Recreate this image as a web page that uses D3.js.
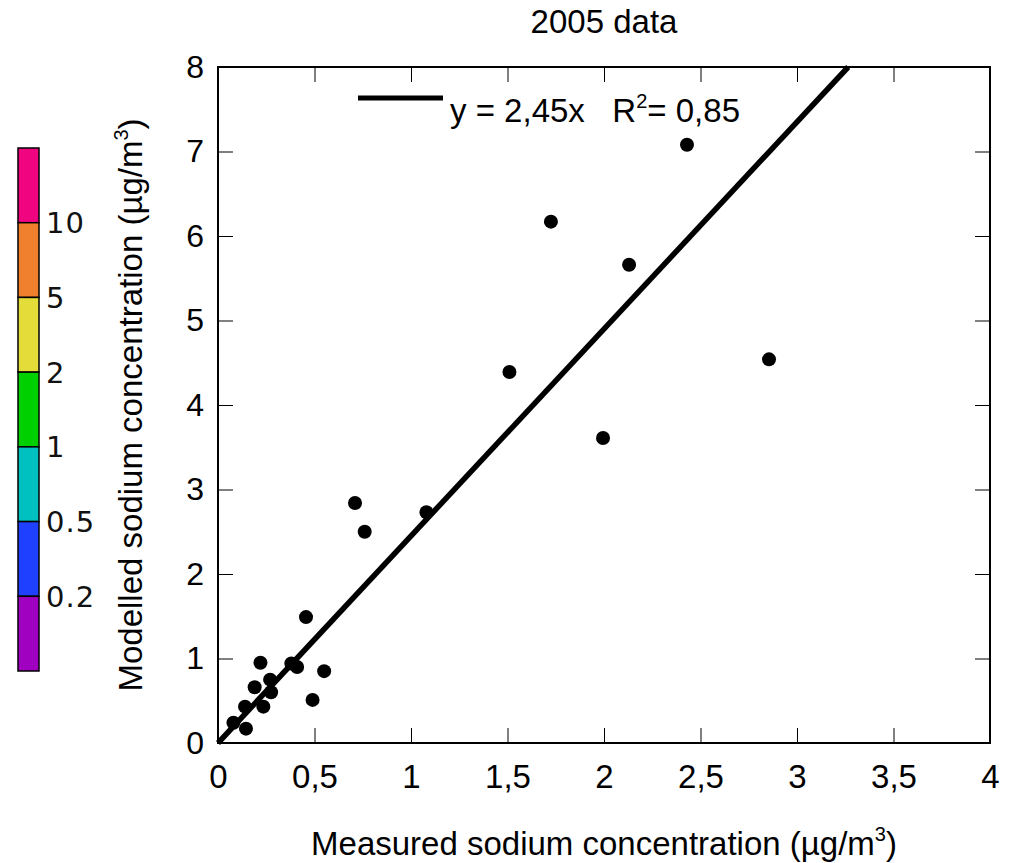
<!DOCTYPE html>
<head>
<meta charset="utf-8">
<script src="https://d3js.org/d3.v7.min.js"></script>
<style>
body {
  margin: 0;
  background: white;
  font-family: 'Liberation Sans', Arial, sans-serif;
}
.frame {
  fill: none;
  stroke: black;
  stroke-width: 2;
}
.tick line {
  stroke: black;
  stroke-width: 1;
}
.fit_line {
  stroke: black;
  stroke-width: 5.5;
  fill: none;
}
.dot {
  fill: black;
}
.scale_label {
  font-family: 'DejaVu Sans', sans-serif;
  font-size: 29px;
  letter-spacing: 1px;
  fill: #111;
}
</style>
</head>

<body>
<div id="plotContainer"></div>
<script>

// measured vs modelled sodium (ug/m3)
var measured = [2.43, 1.725, 2.13, 1.51, 2.855, 1.995, 0.71, 0.76, 1.08, 0.456,
                0.55, 0.49, 0.38, 0.41, 0.22, 0.19, 0.27, 0.275, 0.235, 0.14, 0.08, 0.145];
var modelled = [7.08, 6.17, 5.66, 4.39, 4.54, 3.61, 2.84, 2.50, 2.73, 1.49,
                0.85, 0.51, 0.94, 0.90, 0.95, 0.66, 0.75, 0.60, 0.43, 0.43, 0.24, 0.17];

var slope = 2.45;
var r2 = "0,85";

var xTicks = [0, 0.5, 1, 1.5, 2, 2.5, 3, 3.5, 4];
var yTicks = [0, 1, 2, 3, 4, 5, 6, 7, 8];

// colour key on the left (top to bottom)
var scaleColors = ["#f0047f", "#f0802e", "#e4dc38", "#00d000", "#00c0c0", "#2040ff", "#a000c0"];
var scaleLabels = ["10", "5", "2", "1", "0.5", "0.2"];

var width = 1017, height = 863;
var margin = {top: 67, right: 27, bottom: 120, left: 218};
var w = width - margin.left - margin.right,
    h = height - margin.top - margin.bottom;

var svg = d3.select("#plotContainer")
    .append("svg")
    .attr("width", width)
    .attr("height", height);

var x = d3.scaleLinear().domain([0, 4]).range([0, w]);
var y = d3.scaleLinear().domain([0, 8]).range([h, 0]);

var g = svg.append("g")
    .attr("transform", "translate(" + margin.left + "," + margin.top + ")");

var fmt = function(d) { return String(d).replace(".", ","); };

// bottom axis, ticks pointing inward
var xAxis = g.append("g")
    .attr("transform", "translate(0," + h + ")")
    .call(d3.axisBottom(x).tickValues(xTicks).tickSize(-15).tickPadding(22).tickFormat(fmt));
xAxis.select(".domain").remove();
xAxis.selectAll("text")
    .attr("font-size", 33)
    .attr("font-family", "'Liberation Sans', Arial, sans-serif")
    .attr("fill", "black");

var xTop = g.append("g")
    .call(d3.axisTop(x).tickValues(xTicks).tickSize(-15).tickFormat(""));
xTop.select(".domain").remove();

var yAxis = g.append("g")
    .call(d3.axisLeft(y).tickValues(yTicks).tickSize(-15).tickPadding(14));
yAxis.select(".domain").remove();
yAxis.selectAll("text")
    .attr("font-size", 32)
    .attr("font-family", "'Liberation Sans', Arial, sans-serif")
    .attr("fill", "black");

var yRight = g.append("g")
    .attr("transform", "translate(" + w + ",0)")
    .call(d3.axisRight(y).tickValues(yTicks).tickSize(-15).tickFormat(""));
yRight.select(".domain").remove();

g.append("rect")
    .attr("class", "frame")
    .attr("width", w)
    .attr("height", h);

// regression line y = 2.45x, clipped at the top of the frame
var fit = [[0, 0], [8 / slope, 8]];
g.append("path")
    .datum(fit)
    .attr("class", "fit_line")
    .attr("d", d3.line().x(function(d) { return x(d[0]); }).y(function(d) { return y(d[1]); }));

g.selectAll(".dot")
    .data(measured)
    .enter()
    .append("circle")
    .attr("class", "dot")
    .attr("cx", function(d) { return x(d); })
    .attr("cy", function(d, i) { return y(modelled[i]); })
    .attr("r", 7);

// legend
g.append("line")
    .attr("x1", 140).attr("x2", 225)
    .attr("y1", 31).attr("y2", 31)
    .attr("stroke", "black")
    .attr("stroke-width", 5);

var leg = g.append("text")
    .attr("x", 232)
    .attr("y", 55)
    .attr("font-size", 33)
    .attr("fill", "black")
    .attr("xml:space", "preserve");
leg.append("tspan").text("y = " + fmt(slope) + "x   R");
leg.append("tspan").attr("font-size", 20).attr("dy", -14).text("2");
leg.append("tspan").attr("dy", 14).text("= " + r2);

// title
svg.append("text")
    .attr("x", margin.left + w / 2)
    .attr("y", 33)
    .attr("text-anchor", "middle")
    .attr("font-size", 33)
    .text("2005 data");

// x title
var xt = svg.append("text")
    .attr("x", margin.left + w / 2)
    .attr("y", 855)
    .attr("text-anchor", "middle")
    .attr("font-size", 33);
xt.append("tspan").text("Measured sodium concentration (\u00b5g/m");
xt.append("tspan").attr("font-size", 20).attr("dy", -14).text("3");
xt.append("tspan").attr("dy", 14).text(")");

// y title
var yt = svg.append("text")
    .attr("transform", "translate(142," + (margin.top + h / 2) + ") rotate(-90)")
    .attr("text-anchor", "middle")
    .attr("font-size", 33);
yt.append("tspan").text("Modelled sodium concentration (\u00b5g/m");
yt.append("tspan").attr("font-size", 20).attr("dy", -14).text("3");
yt.append("tspan").attr("dy", 14).text(")");

// colour key
var keyTop = 148, keyBottom = 671, keyLeft = 18, keyWidth = 21;
var ks = d3.scaleBand().domain(d3.range(scaleColors.length)).range([keyTop, keyBottom]);

svg.selectAll(".key")
    .data(scaleColors)
    .enter()
    .append("rect")
    .attr("x", keyLeft)
    .attr("y", function(d, i) { return ks(i); })
    .attr("width", keyWidth)
    .attr("height", ks.bandwidth())
    .attr("fill", function(d) { return d; })
    .attr("stroke", "black")
    .attr("stroke-width", 1.5);

svg.selectAll(".scale_label")
    .data(scaleLabels)
    .enter()
    .append("text")
    .attr("class", "scale_label")
    .attr("x", keyLeft + keyWidth + 7)
    .attr("y", function(d, i) { return ks(i + 1); })
    .attr("dy", "0.36em")
    .text(function(d) { return d; });

</script>
</body>
